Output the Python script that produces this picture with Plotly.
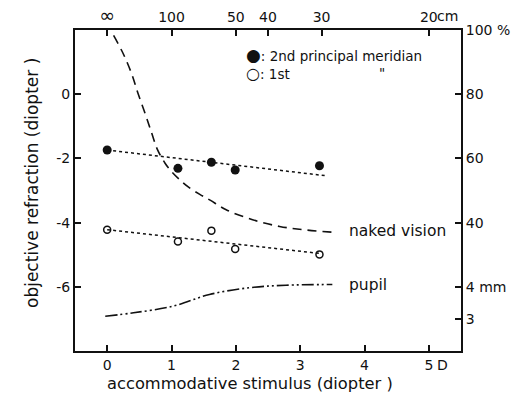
import plotly.graph_objects as go

# ---- data ----
stim_pts = [0.0, 1.1, 1.62, 1.99, 3.3]
merid2 = [-1.74, -2.31, -2.12, -2.36, -2.23]
merid1 = [-4.22, -4.59, -4.25, -4.82, -4.99]

trend2_x = [0.0, 3.4]
trend2_y = [-1.74, -2.54]
trend1_x = [0.0, 3.3]
trend1_y = [-4.22, -4.96]

naked_x = [0.1, 0.25, 0.38, 0.48, 0.59, 0.69, 0.78, 0.9, 1.0, 1.13, 1.26, 1.44, 1.6, 1.85, 2.26, 2.68, 3.05, 3.5]
naked_y = [1.83, 1.26, 0.64, 0.02, -0.6, -1.2, -1.72, -2.15, -2.41, -2.67, -2.89, -3.12, -3.3, -3.6, -3.91, -4.12, -4.22, -4.3]

pupil_x = [-0.03, 0.41, 1.03, 1.59, 2.21, 2.78, 3.5]
pupil_y = [-6.92, -6.81, -6.6, -6.24, -6.03, -5.95, -5.93]

bottom_ticks = [0, 1, 2, 3, 4, 5]
bottom_labels = ["0", "1", "2", "3", "4", "5"]
top_ticks = [0, 1, 2, 2.5, 3.333, 5]
top_labels = ["<span style='font-size:19px'>∞</span>", "100", "50", "40", "30", "20"]
left_ticks = [0, -2, -4, -6]
left_labels = ["0", "-2", "-4", "-6"]
right_ticks = [2, 0, -2, -4, -6, -7]
right_labels = ["100 %", "80", "60", "40", "4 mm", "3"]

FONT = "DejaVu Sans"
BLACK = "#111111"

fig = go.Figure()

fig.add_trace(go.Scatter(x=trend2_x, y=trend2_y, mode="lines",
                         line=dict(color=BLACK, width=1.5, dash="3px,3px"), showlegend=False))
fig.add_trace(go.Scatter(x=trend1_x, y=trend1_y, mode="lines",
                         line=dict(color=BLACK, width=1.5, dash="3px,3px"), showlegend=False))
fig.add_trace(go.Scatter(x=naked_x, y=naked_y, mode="lines", line_shape="spline",
                         line=dict(color=BLACK, width=1.6, dash="9px,6px"), showlegend=False))
fig.add_trace(go.Scatter(x=pupil_x, y=pupil_y, mode="lines", line_shape="spline",
                         line=dict(color=BLACK, width=1.6, dash="12px,3px,2px,3px,2px,3px"),
                         showlegend=False))
fig.add_trace(go.Scatter(x=stim_pts, y=merid2, mode="markers",
                         marker=dict(symbol="circle", size=9, color=BLACK), showlegend=False))
fig.add_trace(go.Scatter(x=stim_pts, y=merid1, mode="markers",
                         marker=dict(symbol="circle-open", size=7, color=BLACK,
                                     line=dict(width=1.5, color=BLACK)), showlegend=False))
# invisible trace to anchor secondary axes
fig.add_trace(go.Scatter(x=[0], y=[0], xaxis="x2", yaxis="y2", mode="markers",
                         marker=dict(opacity=0), showlegend=False, hoverinfo="skip"))

axis_common = dict(showline=True, linewidth=2, linecolor=BLACK, ticks="inside",
                   ticklen=6, tickwidth=1.5, tickcolor=BLACK, showgrid=False, zeroline=False,
                   automargin=False,
                   tickfont=dict(family=FONT, size=14, color=BLACK))

fig.update_layout(
    width=512, height=399,
    margin=dict(l=75, r=51, t=30, b=48),
    paper_bgcolor="white", plot_bgcolor="white",
    xaxis=dict(range=[-0.5, 5.5], tickmode="array", tickvals=bottom_ticks, ticktext=bottom_labels,
               **axis_common),
    xaxis2=dict(range=[-0.5, 5.5], overlaying="x", side="top", anchor="y", tickmode="array",
                tickvals=top_ticks, ticktext=top_labels, **axis_common),
    yaxis=dict(range=[-8, 2], tickmode="array", tickvals=left_ticks, ticktext=left_labels,
               **axis_common),
    yaxis2=dict(range=[-8, 2], overlaying="y", side="right", anchor="x", tickmode="array",
                tickvals=right_ticks, ticktext=right_labels, **axis_common),
    font=dict(family=FONT, color=BLACK),
)

# axis titles (annotations, to match the original's off-centre placement)
fig.add_annotation(x=(250 - 75) / 386, y=-(383 - 351) / 321, xref="paper", yref="paper",
                   text="accommodative stimulus (diopter )", showarrow=False,
                   font=dict(family=FONT, size=16.3, color=BLACK),
                   xanchor="center", yanchor="middle")
fig.add_annotation(x=-(75 - 32) / 386, y=(351 - 183) / 321, xref="paper", yref="paper",
                   text="objective refraction (diopter )", showarrow=False,
                   font=dict(family=FONT, size=17, color=BLACK),
                   textangle=-90, xanchor="center", yanchor="middle")

ann_font = dict(family=FONT, size=13.5, color=BLACK)
fig.add_annotation(x=3.73, y=-4.27, text="naked vision", showarrow=False, xanchor="left",
                   yanchor="middle", font=dict(family=FONT, size=15.5, color=BLACK))
fig.add_annotation(x=3.73, y=-5.95, text="pupil", showarrow=False, xanchor="left",
                   yanchor="middle", font=dict(family=FONT, size=15.5, color=BLACK))
fig.add_annotation(x=2.13, y=1.22,
                   text="<span style='font-size:17px'>●</span>: 2nd principal meridian",
                   showarrow=False, xanchor="left", yanchor="middle", font=ann_font)
fig.add_annotation(x=2.13, y=0.66, text="<span style='font-size:16px'>○</span>: 1st",
                   showarrow=False, xanchor="left", yanchor="middle", font=ann_font)
fig.add_annotation(x=4.27, y=0.66, text="\"", showarrow=False,
                   xanchor="center", yanchor="middle", font=ann_font)
fig.add_annotation(x=5.1, y=1.0, xref="x", yref="paper", text="cm", showarrow=False,
                   xanchor="left", yanchor="bottom", yshift=4, font=dict(family=FONT, size=14, color=BLACK))
fig.add_annotation(x=5.1, y=0.0, xref="x", yref="paper", text="D", showarrow=False,
                   xanchor="left", yanchor="top", yshift=-4, font=dict(family=FONT, size=14, color=BLACK))

fig.write_html("out.html")
